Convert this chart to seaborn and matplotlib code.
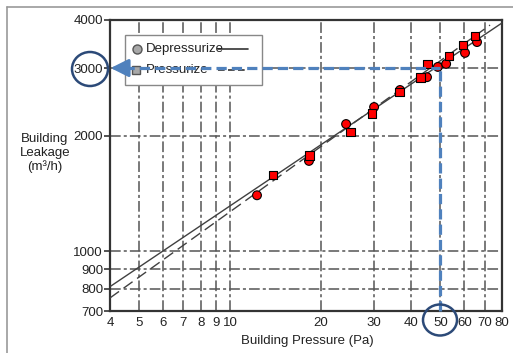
import matplotlib
matplotlib.use("Agg")
import matplotlib.pyplot as plt
import seaborn as sns
import pandas as pd
from matplotlib.patches import Ellipse, Rectangle
from matplotlib.lines import Line2D
from matplotlib.transforms import IdentityTransform
from matplotlib.ticker import NullLocator

# ---- data ----
dep_x = [12.3, 18.3, 24.3, 30.1, 36.7, 45.1, 49.0, 52.2, 60.3, 66.1]
dep_y = [1400, 1720, 2145, 2375, 2630, 2840, 3020, 3075, 3285, 3505]
pres_x = [13.9, 18.4, 25.2, 29.6, 36.5, 42.8, 45.4, 53.4, 59.4, 65.1]
pres_y = [1580, 1780, 2045, 2290, 2600, 2840, 3075, 3225, 3445, 3635]

dep_fit_x = [4, 80]
dep_fit_y = [810, 3930]
pres_fit_x = [4, 73]
pres_fit_y = [757, 3880]

x_ticks = [4, 5, 6, 7, 8, 9, 10, 20, 30, 40, 50, 60, 70, 80]
y_ticks = [700, 800, 900, 1000, 2000, 3000, 4000]
ref_x = 50
ref_y = 3000

# ---- style ----
sns.set_theme(style="white")
plt.rcParams["font.family"] = ["Liberation Sans", "DejaVu Sans"]

W, H = 513, 353
fig = plt.figure(figsize=(W / 100, H / 100), dpi=100)
ax = fig.add_axes([110 / W, 1 - 311 / H, (502 - 110) / W, (311 - 20) / H])

df = pd.DataFrame({
    "pressure": dep_x + pres_x,
    "leakage": dep_y + pres_y,
    "mode": ["Depressurize"] * len(dep_x) + ["Pressurize"] * len(pres_x),
})

ax.set_xscale("log")
ax.set_yscale("log")

# fit lines
ax.plot(dep_fit_x, dep_fit_y, color="#404040", lw=1.0, zorder=3)
ax.plot(pres_fit_x, pres_fit_y, color="#404040", lw=1.0, ls=(0, (8, 4)), zorder=3)

sns.scatterplot(data=df, x="pressure", y="leakage", style="mode",
                markers={"Depressurize": "o", "Pressurize": "s"},
                color="#ff0000", edgecolor="black", linewidth=0.8, s=40,
                legend=False, ax=ax, zorder=4)

ax.set_xlim(4, 80)
ax.set_ylim(700, 4000)
ax.set_xticks(x_ticks)
ax.set_xticklabels([str(v) for v in x_ticks])
ax.set_yticks(y_ticks)
ax.set_yticklabels([str(v) for v in y_ticks])
ax.xaxis.set_minor_locator(NullLocator())
ax.yaxis.set_minor_locator(NullLocator())
ax.tick_params(axis="y", which="major", length=4, width=1.2, color="#333333",
               pad=1, labelsize=9.5, labelcolor="#222222", direction="out", left=True)
ax.tick_params(axis="x", which="major", length=0, pad=4, labelsize=9.5,
               labelcolor="#222222", bottom=True)
ax.set_xlabel("")
ax.set_ylabel("")

ax.grid(True, which="major", color="#555555", lw=1.1, ls=(0, (7, 2, 2, 2)))
ax.set_axisbelow(True)
for s in ax.spines.values():
    s.set_color("#333333")
    s.set_linewidth(1.6)

# ---- legend (custom layout: marker, text, line), drawn inside the axes ----
pix = IdentityTransform()
def py(y):
    return H - y

ax.add_artist(Rectangle((125, py(85)), 137, 50, transform=pix, facecolor="white",
                        edgecolor="#888888", lw=1.0, zorder=5, clip_on=False))
for art in [
    Line2D([137], [py(49)], marker="o", markersize=6.5, markerfacecolor="#a8a8a8",
           markeredgecolor="#555555", transform=pix, zorder=6),
    Line2D([136], [py(70)], marker="s", markersize=6, markerfacecolor="#a8a8a8",
           markeredgecolor="#555555", transform=pix, zorder=6),
    Line2D([218, 248], [py(49), py(49)], color="#333333", lw=1.2,
           transform=pix, zorder=6),
    Line2D([218, 248], [py(70), py(70)], color="#333333", lw=1.2,
           ls=(0, (4, 2)), transform=pix, zorder=6),
]:
    art.set_clip_on(False)
    ax.add_artist(art)
ax.text(146, py(49), "Depressurize", transform=pix, fontsize=9.5, va="center",
        ha="left", color="#222222", zorder=6)
ax.text(146, py(70), "Pressurize", transform=pix, fontsize=9.5, va="center",
        ha="left", color="#222222", zorder=6)

# ---- blue annotation ----
blue = "#4f81bd"
ax.plot([ref_x, ref_x], [700, ref_y], color=blue, lw=2.3, ls=(0, (3.2, 1.6)),
        zorder=7, clip_on=False)
ax.plot([4.45, ref_x], [ref_y, ref_y], color=blue, lw=2.3, ls=(0, (3.2, 1.6)),
        zorder=7, clip_on=False)
ax.annotate("", xy=(4.02, ref_y), xytext=(4.6, ref_y),
            arrowprops=dict(arrowstyle="-|>,head_length=0.9,head_width=0.45",
                            color=blue, lw=2.2, shrinkA=0, shrinkB=0),
            zorder=8, annotation_clip=False)

navy = "#2c4a78"
fig.add_artist(Ellipse((90, py(69)), 36, 34, transform=pix, fill=False,
                       edgecolor=navy, lw=1.8, zorder=9))
fig.add_artist(Ellipse((440, py(320)), 34, 31, transform=pix, fill=False,
                       edgecolor=navy, lw=1.8, zorder=9))

# ---- axis titles ----
fig.text(45 / W, 1 - 153 / H, "Building\nLeakage\n(m³/h)", ha="center", va="center",
         fontsize=9.5, color="#222222", linespacing=1.15)
fig.text(307 / W, 1 - 341 / H, "Building Pressure (Pa)", ha="center", va="center",
         fontsize=9.5, color="#222222")

# ---- outer frame lines ----
fig.add_artist(Line2D([6.5, W], [py(7), py(7)], color="#999999", lw=1.2, transform=pix))
fig.add_artist(Line2D([6.5, 6.5], [0, py(7)], color="#999999", lw=1.2, transform=pix))

fig.savefig("out.png", dpi=100)
